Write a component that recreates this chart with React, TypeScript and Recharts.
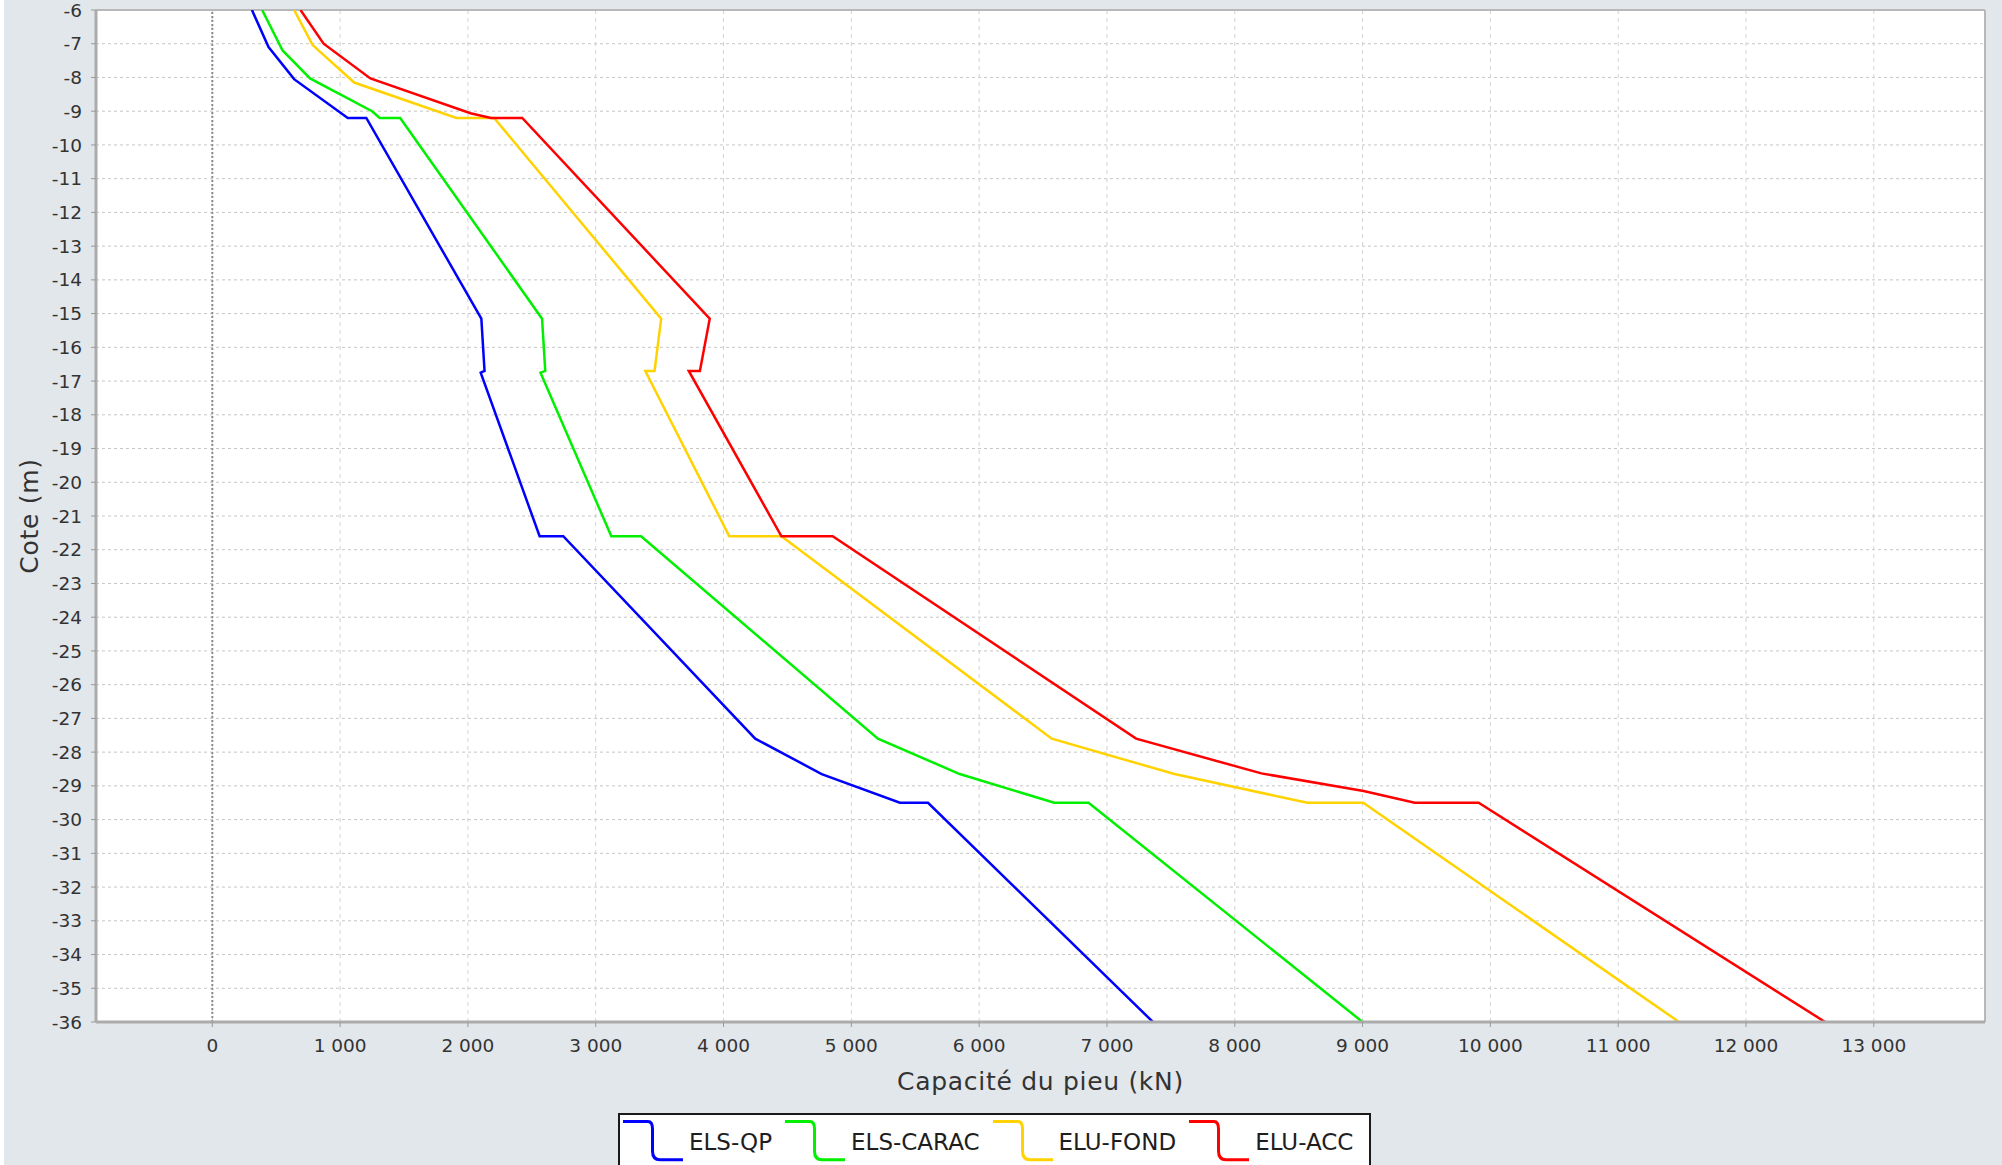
import React from 'react';
import { LineChart, Line, XAxis, YAxis, CartesianGrid, ReferenceLine, Legend } from 'recharts';

// Tick labels
const depthTicks = [-6, -7, -8, -9, -10, -11, -12, -13, -14, -15, -16, -17, -18, -19, -20, -21, -22, -23, -24, -25, -26, -27, -28, -29, -30, -31, -32, -33, -34, -35, -36];
const capTicks = [0, 1000, 2000, 3000, 4000, 5000, 6000, 7000, 8000, 9000, 10000, 11000, 12000, 13000];

// ELS-QP
const qpDepth = [-6, -7.1, -8.05, -9.2, -9.2, -15.15, -16.7, -16.75, -21.6, -21.6, -27.6, -28.65, -29.5, -29.5, -36];
const qpCap = [310, 440, 640, 1060, 1205, 2105, 2130, 2100, 2561, 2746, 4248, 4768, 5380, 5600, 7360];

// ELS-CARAC
const caracDepth = [-6, -7.2, -8.03, -9.0, -9.2, -9.2, -15.15, -16.7, -16.75, -21.6, -21.6, -27.6, -28.65, -29.5, -29.5, -36];
const caracCap = [390, 550, 765, 1250, 1310, 1470, 2580, 2605, 2568, 3122, 3355, 5208, 5848, 6588, 6856, 9000];

// ELU-FOND
const fondDepth = [-6, -7.04, -8.15, -9.2, -9.2, -15.15, -16.7, -16.7, -21.6, -21.6, -27.6, -28.65, -29.5, -29.5, -36];
const fondCap = [640, 785, 1110, 1910, 2205, 3512, 3460, 3388, 4045, 4453, 6568, 7528, 8568, 9005, 11476];

// ELU-ACC
const accDepth = [-6, -7.0, -8.03, -9.06, -9.2, -9.2, -15.15, -16.7, -16.7, -21.6, -21.6, -27.6, -28.63, -29.15, -29.5, -29.5, -36];
const accCap = [690, 871, 1237, 2020, 2180, 2425, 3892, 3815, 3728, 4453, 4854, 7228, 8208, 9008, 9408, 9908, 12619];

const series = [
  { name: 'ELS-QP', color: '#0000ff', depth: qpDepth, cap: qpCap },
  { name: 'ELS-CARAC', color: '#00f000', depth: caracDepth, cap: caracCap },
  { name: 'ELU-FOND', color: '#ffd200', depth: fondDepth, cap: fondCap },
  { name: 'ELU-ACC', color: '#ff0000', depth: accDepth, cap: accCap },
];

const toPoints = (depth: number[], cap: number[]) => depth.map((d, i) => ({ cap: cap[i], depth: d }));

const fmtThousands = (v: number) => String(v).replace(/\B(?=(\d{3})+(?!\d))/g, ' ');

const X_MIN = -910;
const X_MAX = 13870;

const LegendBox = () => (
  <div
    style={{
      boxSizing: 'border-box',
      width: 753,
      height: 62,
      border: '2px solid #1a1a1a',
      background: '#ffffff',
      display: 'flex',
      alignItems: 'flex-start',
      paddingLeft: 3,
      fontFamily: 'DejaVu Sans',
    }}
  >
    {series.map((s) => (
      <div key={s.name} style={{ display: 'flex', alignItems: 'flex-start', marginRight: 13 }}>
        <svg width={60} height={42} style={{ marginTop: 5, display: 'block' }}>
          <path
            d="M0 1.5 H25 Q29.5 1.5 29.5 9 V31 Q29.5 39.8 37 39.8 H60"
            fill="none"
            stroke={s.color}
            strokeWidth={3}
          />
        </svg>
        <span style={{ marginLeft: 6, marginTop: 14, fontSize: 23, color: '#1e1e1e', whiteSpace: 'nowrap' }}>{s.name}</span>
      </div>
    ))}
  </div>
);

const XTitle = (props: any) => {
  const vb = props.viewBox || { x: 96, y: 1022, width: 1889, height: 143 };
  return (
    <text
      x={vb.x + vb.width / 2}
      y={vb.y + 68}
      textAnchor="middle"
      fontFamily="DejaVu Sans"
      fontSize={25}
      letterSpacing={0.7}
      fill="#333"
    >
      Capacité du pieu (kN)
    </text>
  );
};

const YTitle = (props: any) => {
  const vb = props.viewBox || { x: 0, y: 10, width: 96, height: 1012 };
  const cy = vb.y + vb.height / 2;
  const bx = 38;
  return (
    <text
      x={bx}
      y={cy}
      textAnchor="middle"
      transform={`rotate(-90, ${bx}, ${cy})`}
      fontFamily="DejaVu Sans"
      fontSize={25}
      letterSpacing={0.7}
      fill="#333"
    >
      Cote (m)
    </text>
  );
};

export default function App() {
  return (
    <div
      style={{
        position: 'absolute',
        left: 0,
        top: 0,
        width: 2002,
        height: 1165,
        overflow: 'hidden',
        background: '#e2e7eb',
        fontFamily: 'DejaVu Sans',
      }}
    >
      <div style={{ position: 'absolute', left: 0, top: 0, width: 4, height: 1165, background: '#ffffff' }} />
      <LineChart width={2002} height={1165} margin={{ top: 10, right: 17, left: 0, bottom: 0 }}>
        <CartesianGrid horizontal vertical={false} stroke="#c6c6c6" strokeDasharray="3 3" fill="#ffffff" fillOpacity={1} />
        <CartesianGrid horizontal={false} vertical stroke="#d2d2d2" strokeDasharray="4 4" />
        <XAxis
          dataKey="cap"
          type="number"
          domain={[X_MIN, X_MAX]}
          ticks={capTicks}
          interval={0}
          allowDataOverflow
          height={143}
          tickSize={5}
          tickMargin={12}
          tickFormatter={fmtThousands}
          tick={{ fill: '#333', fontSize: 18.5, fontFamily: 'DejaVu Sans' }}
          axisLine={{ stroke: '#ababab', strokeWidth: 3 }}
          tickLine={{ stroke: '#999' }}
          label={<XTitle />}
        />
        <YAxis
          dataKey="depth"
          type="number"
          domain={[-36, -6]}
          ticks={depthTicks}
          interval={0}
          allowDataOverflow
          width={96}
          tickSize={5}
          tickMargin={9}
          tick={{ fill: '#333', fontSize: 18.5, fontFamily: 'DejaVu Sans' }}
          axisLine={{ stroke: '#ababab', strokeWidth: 3 }}
          tickLine={{ stroke: '#999' }}
          label={<YTitle />}
        />
        <ReferenceLine x={0} stroke="#8e8e8e" strokeDasharray="2 2" strokeWidth={2} />
        <ReferenceLine y={-6} stroke="#b8b8b8" strokeWidth={2} />
        <ReferenceLine x={X_MAX} stroke="#b8b8b8" strokeWidth={2} />
        {series.map((s) => (
          <Line
            key={s.name}
            name={s.name}
            data={toPoints(s.depth, s.cap)}
            dataKey="depth"
            type="linear"
            stroke={s.color}
            strokeWidth={2.5}
            dot={false}
            activeDot={false}
            isAnimationActive={false}
          />
        ))}
        <Legend
          layout="horizontal"
          verticalAlign="middle"
          align="center"
          wrapperStyle={{ left: 618, top: 1113, width: 753, height: 62 }}
          content={() => <LegendBox />}
        />
      </LineChart>
    </div>
  );
}
